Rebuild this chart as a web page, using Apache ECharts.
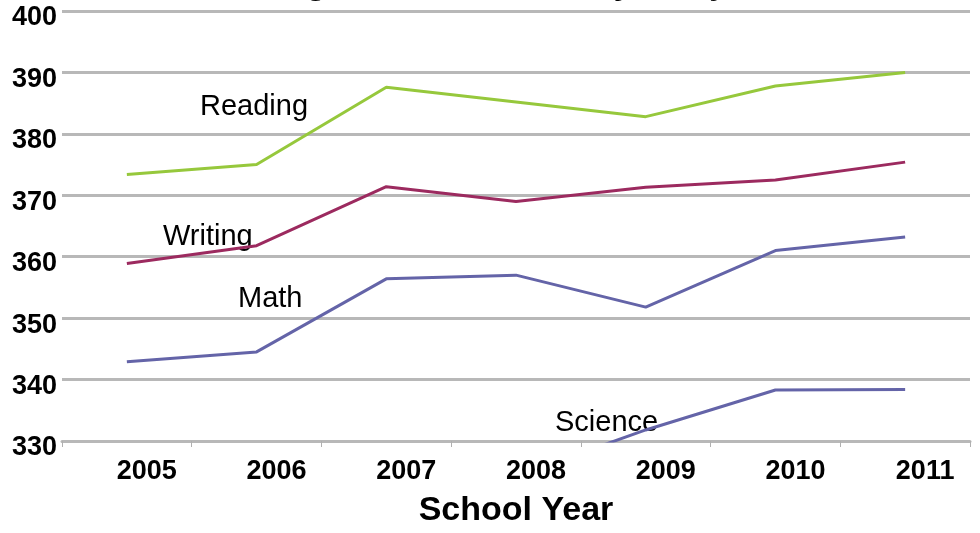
<!DOCTYPE html>
<html>
<head>
<meta charset="utf-8">
<script src="https://cdn.jsdelivr.net/npm/echarts@6/dist/echarts.min.js"></script>
<style>
html,body{margin:0;padding:0;background:#fff;}
#chart{width:980px;height:533px;}
</style>
</head>
<body>
<div id="chart"></div>
<script>
const years = ['2005','2006','2007','2008','2009','2010','2011'];
const reading = [373.4, 375.0, 387.6, 385.2, 382.8, 387.8, 390.0];
const writing = [358.9, 361.8, 371.4, 369.0, 371.3, 372.5, 375.4];
const math    = [342.9, 344.5, 356.4, 357.0, 351.8, 361.0, 363.2];
const science = [null, null, null, 324.3, 331.8, 338.3, 338.4];
const yTicks  = {min: 330, max: 400, interval: 10};
const titleText = 'Average Scale Scores by Subject';
const xName = 'School Year';
const seriesLabels = [
  {text: 'Reading', left: 200, top: 92},
  {text: 'Writing', left: 163, top: 222},
  {text: 'Math',    left: 238, top: 284},
  {text: 'Science', left: 555, top: 408}
];

const chart = echarts.init(document.getElementById('chart'));
const font = 'Liberation Sans, Arial, sans-serif';
function line(name, data, color) {
  return {
    name, type: 'line', data, symbol: 'none', clip: true,
    lineStyle: {color, width: 3}, itemStyle: {color},
    connectNulls: false
  };
}
chart.setOption({
  backgroundColor: '#ffffff',
  animation: false,
  title: {
    text: titleText, left: 'center', top: -40,
    textStyle: {fontFamily: font, fontSize: 36, fontWeight: 'bold', color: '#000'}
  },
  grid: {left: 62, right: 10, top: 11, bottom: 84},
  xAxis: {
    type: 'category', data: years, boundaryGap: true,
    name: xName, nameLocation: 'middle', nameGap: 53,
    nameTextStyle: {fontFamily: font, fontSize: 34, lineHeight: 34, fontWeight: 'bold', color: '#000'},
    axisLine: {lineStyle: {color: '#b8b8b8', width: 3}},
    axisTick: {show: true, length: 6, lineStyle: {color: '#b0b0b0', width: 1}},
    axisLabel: {fontFamily: font, fontSize: 27, lineHeight: 26, fontWeight: 'bold', color: '#000', margin: 18, padding: [0,0,0,40]}
  },
  yAxis: {
    type: 'value', min: yTicks.min, max: yTicks.max, interval: yTicks.interval,
    axisLine: {show: false}, axisTick: {show: false},
    axisLabel: {fontFamily: font, fontSize: 27, lineHeight: 14, verticalAlign: 'top', fontWeight: 'bold', color: '#000', margin: 5},
    splitLine: {lineStyle: {color: '#b8b8b8', width: 3}}
  },
  graphic: seriesLabels.map(l => ({
    type: 'text', left: l.left, top: l.top,
    style: {text: l.text, fontFamily: font, fontSize: 29, fill: '#000'}
  })),
  series: [
    line('Reading', reading, '#96c83c'),
    line('Writing', writing, '#9c2a5f'),
    line('Math', math, '#6464a8'),
    line('Science', science, '#6464a8')
  ]
});
</script>
</body>
</html>
